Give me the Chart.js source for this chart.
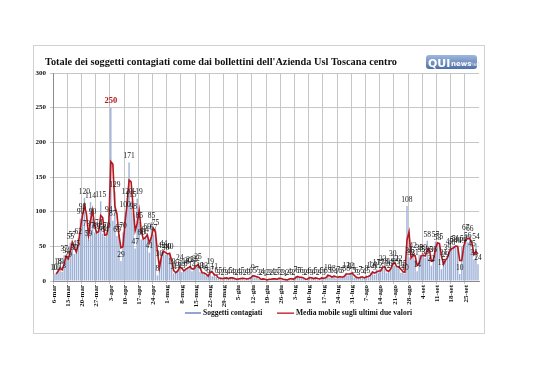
<!DOCTYPE html>
<html>
<head>
<meta charset="utf-8">
<script src="https://cdn.jsdelivr.net/npm/chart.js@4/dist/chart.umd.min.js"></script>
<style>
  html, body { margin: 0; padding: 0; background: #fff; }
  canvas { display: block; }
</style>
</head>
<body>
<canvas id="grafico" width="538" height="380"></canvas>
<script>
// contagi giornalieri, dal 6 marzo al 1 ottobre
const marzo = [10, 10, 18, 19, 13, 37, 34, 29, 55, 57, 39, 45, 62, 90, 98, 120, 73, 59, 114, 90, 70, 69, 74, 115, 68, 64];
const aprile = [70, 94, 250, 87, 129, 65, 67, 29, 70, 100, 120, 171, 115, 98, 47, 119, 85, 60, 61, 64, 69, 41, 85, 67, 75, 8, 30, 42, 44, 38];
const maggio = [40, 40, 19, 11, 13, 16, 24, 13, 16, 18, 20, 21, 14, 21, 22, 25, 13, 11, 12, 8, 6, 19, 7, 11, 6, 3, 5, 2, 6, 3, 4];
const giugno = [5, 4, 3, 2, 4, 3, 5, 2, 4, 3, 6, 9, 5, 7, 3, 2, 4, 1, 2, 3, 2, 4, 2, 3, 5, 2, 3, 1, 2, 4];
const luglio = [3, 2, 7, 6, 5, 6, 3, 2, 4, 6, 3, 4, 5, 2, 4, 5, 3, 6, 10, 5, 6, 8, 4, 7, 6, 5, 8, 12, 8, 12, 11];
const agosto = [5, 6, 3, 7, 5, 4, 8, 5, 12, 14, 9, 17, 12, 17, 23, 18, 12, 16, 19, 30, 22, 19, 22, 12, 15, 10, 108, 34, 32, 42, 31];
const settembre = [14, 38, 35, 39, 33, 58, 35, 22, 36, 57, 53, 55, 17, 31, 29, 39, 47, 46, 50, 51, 49, 10, 49, 52, 67, 56, 66, 45, 31, 54];
const ottobre = [24];

const valori = [].concat(marzo, aprile, maggio, giugno, luglio, agosto, settembre, ottobre);

const mesi = ['gen', 'feb', 'mar', 'apr', 'mag', 'giu', 'lug', 'ago', 'set', 'ott', 'nov', 'dic'];
const giorni = [];
let dt = new Date(2020, 2, 6);
for (let i = 0; i < valori.length; i++) {
  giorni.push(dt.getDate() + '-' + mesi[dt.getMonth()]);
  dt.setDate(dt.getDate() + 1);
}

// media mobile sugli ultimi due valori (come da legenda)
const media = valori.map((v, i) => i === 0 ? null : (v + valori[i - 1]) / 2);

const ROSSO = '#b8161d';
const BLU = '#9fb3d8';
const SERIF = '"Liberation Serif", "DejaVu Serif", serif';

const decorazioni = {
  id: 'decorazioni',
  beforeDraw(chart) {
    const ctx = chart.ctx;
    ctx.save();
    ctx.fillStyle = '#fff';
    ctx.fillRect(0, 0, chart.width, chart.height);
    ctx.strokeStyle = '#d2d2d2';
    ctx.lineWidth = 1;
    ctx.strokeRect(33.5, 45.5, 451, 288);
    ctx.restore();
  },
  afterDatasetsDraw(chart) {
    const ctx = chart.ctx;
    ctx.save();
    // etichette dei valori
    const barre = chart.getDatasetMeta(1).data;
    ctx.textAlign = 'center';
    ctx.textBaseline = 'bottom';
    barre.forEach((b, i) => {
      const v = valori[i];
      if (v === 250) {
        ctx.font = 'bold 8.5px ' + SERIF;
        ctx.fillStyle = ROSSO;
      } else {
        ctx.font = '7.5px ' + SERIF;
        ctx.fillStyle = '#1a1a1a';
      }
      ctx.fillText(String(v), b.x, b.y - 2.5);
    });

    // titolo
    const titolo = "Totale dei soggetti contagiati come dai bollettini dell'Azienda Usl Toscana centro";
    ctx.textAlign = 'left';
    ctx.textBaseline = 'alphabetic';
    ctx.fillStyle = '#111';
    ctx.font = 'bold 11px ' + SERIF;
    const w = ctx.measureText(titolo).width;
    const sz = 11 * 352 / w;
    ctx.font = 'bold ' + sz.toFixed(2) + 'px ' + SERIF;
    ctx.fillText(titolo, 45, 65);

    // logo
    const g = ctx.createLinearGradient(0, 55, 0, 69);
    g.addColorStop(0, '#9fb8dd');
    g.addColorStop(1, '#4d6fa8');
    ctx.fillStyle = g;
    ctx.beginPath();
    ctx.roundRect(426, 55, 51, 14, 3);
    ctx.fill();
    ctx.fillStyle = '#fff';
    ctx.font = 'bold 11px "DejaVu Sans", sans-serif';
    ctx.fillText('QUI', 428, 67);
    ctx.font = 'bold 7px "DejaVu Sans", sans-serif';
    ctx.fillText('news', 451, 66);
    ctx.fillStyle = '#dce6f5';
    ctx.font = '6px "DejaVu Sans", sans-serif';
    ctx.fillText('.net', 468, 66);

    // legenda
    ctx.textBaseline = 'middle';
    ctx.font = 'bold 7.5px ' + SERIF;
    ctx.fillStyle = '#8ea7d6';
    ctx.fillRect(185, 312, 16, 2);
    ctx.fillStyle = '#111';
    ctx.fillText(chart.data.datasets[1].label, 203, 313.5);
    ctx.fillStyle = ROSSO;
    ctx.fillRect(277, 312.5, 17, 1.3);
    ctx.fillStyle = '#111';
    ctx.fillText(chart.data.datasets[0].label, 296, 313.5);
    ctx.restore();
  }
};

new Chart(document.getElementById('grafico'), {
  type: 'bar',
  data: {
    labels: giorni,
    datasets: [
      {
        type: 'line',
        label: 'Media mobile sugli ultimi due valori',
        data: media,
        borderColor: ROSSO,
        borderWidth: 1.6,
        pointRadius: 0,
        tension: 0,
        order: 0
      },
      {
        label: 'Soggetti contagiati',
        data: valori,
        backgroundColor: BLU,
        barPercentage: 0.7,
        categoryPercentage: 1,
        order: 1
      }
    ]
  },
  options: {
    responsive: false,
    animation: false,
    devicePixelRatio: 1,
    layout: { padding: { left: 28, right: 59, top: 73, bottom: 60 } },
    plugins: {
      legend: { display: false },
      title: { display: false },
      tooltip: { enabled: false }
    },
    scales: {
      x: {
        grid: {
          color: c => c.index % 7 === 0 ? '#c6c6c6' : 'rgba(0,0,0,0)',
          tickLength: 3
        },
        border: { color: '#8c8c8c' },
        ticks: {
          autoSkip: false,
          maxRotation: 90,
          minRotation: 90,
          padding: 1,
          color: '#111',
          font: { family: SERIF, size: 7, weight: 'bold' },
          callback: (v, i) => i % 7 === 0 ? giorni[i] : ''
        },
        afterFit: s => { s.height = 39; }
      },
      y: {
        min: 0,
        max: 300,
        ticks: {
          stepSize: 50,
          padding: 4,
          color: '#111',
          font: { family: SERIF, size: 7, weight: 'bold' }
        },
        grid: { color: '#c6c6c6', tickLength: 3 },
        border: { color: '#8c8c8c' },
        afterFit: s => { s.width = 25; }
      }
    }
  },
  plugins: [decorazioni]
});
</script>
</body>
</html>
